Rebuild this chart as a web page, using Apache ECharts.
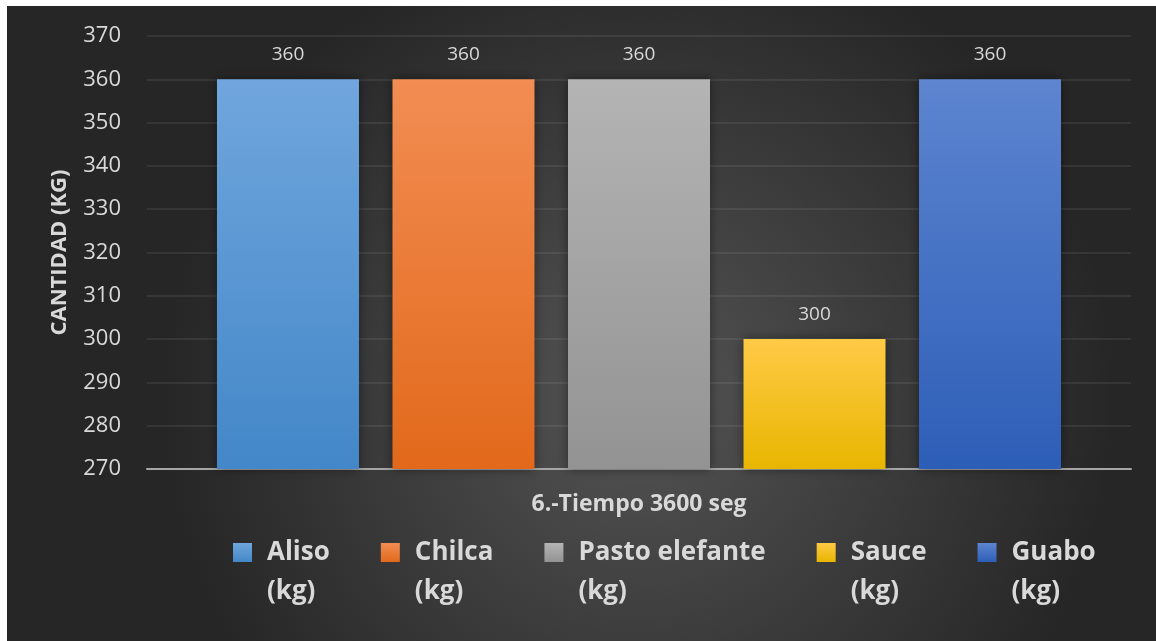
<!DOCTYPE html>
<html>
<head>
<meta charset="utf-8">
<script src="https://cdn.jsdelivr.net/npm/echarts@6/dist/echarts.min.js"></script>
<style>
  html, body { margin: 0; padding: 0; background: #fff; }
  #chart { position: absolute; left: 7px; top: 6px; width: 1149px; height: 635px; }
</style>
</head>
<body>
<div id="chart"></div>
<script>
// datos
const categories = ["6.-Tiempo 3600 seg"];
const seriesNames = ["Aliso\n(kg)", "Chilca\n(kg)", "Pasto elefante\n(kg)", "Sauce\n(kg)", "Guabo\n(kg)"];
const aliso = [360];
const chilca = [360];
const pasto = [360];
const sauce = [300];
const guabo = [360];
const yTicks = { min: 270, max: 370, step: 10 };

const seriesData = [aliso, chilca, pasto, sauce, guabo];
// colores degradado (arriba, abajo)
const colors = [
  ["#70a6dd", "#4387c8"],
  ["#f28d53", "#e2691b"],
  ["#b4b4b4", "#939393"],
  ["#ffca46", "#e8b600"],
  ["#5d85d0", "#2d5eb7"],
];

const chart = echarts.init(document.getElementById("chart"));

const txt = "#d9d9d9";
const font = "'Open Sans', sans-serif";

const option = {
  backgroundColor: {
    type: "radial", x: 0.55, y: 0.62, r: 0.75,
    colorStops: [
      { offset: 0, color: "#545454" },
      { offset: 1, color: "#262626" },
    ],
  },
  textStyle: { fontFamily: font },
  grid: { left: 140, right: 25, top: 30, bottom: 172 },
  xAxis: {
    type: "category",
    data: categories,
    axisTick: { show: false },
    axisLine: { lineStyle: { color: "#a6a6a6", width: 2 } },
    axisLabel: {
      color: txt, fontSize: 23, fontWeight: "bold", fontFamily: font, margin: 24,
    },
  },
  yAxis: {
    type: "value",
    min: yTicks.min, max: yTicks.max, interval: yTicks.step,
    name: "CANTIDAD (KG)",
    nameLocation: "middle",
    nameGap: 76,
    nameRotate: 90,
    nameTextStyle: { color: txt, fontSize: 22, fontWeight: "bold", fontFamily: font },
    axisLine: { show: false },
    axisTick: { show: false },
    axisLabel: { color: txt, fontSize: 22, fontFamily: font, margin: 26 },
    splitLine: { lineStyle: { color: "rgba(255,255,255,0.1)", width: 1.5 } },
  },
  legend: {
    left: 221,
    top: 483,
    itemWidth: 19,
    itemHeight: 19,
    itemGap: 51,
    icon: "rect",
    // linea vacia arriba para que el icono quede a la altura de la primera linea
    formatter: (name) => " \n" + name,
    textStyle: {
      color: txt, fontSize: 26, fontWeight: "bold", fontFamily: font,
      lineHeight: 39, padding: [0, 0, 0, 10],
    },
    data: seriesNames,
  },
  series: seriesNames.map((name, i) => ({
    name: name,
    type: "bar",
    data: seriesData[i],
    barWidth: 142,
    barGap: "23.6%",
    itemStyle: {
      color: new echarts.graphic.LinearGradient(0, 0, 0, 1, [
        { offset: 0, color: colors[i][0] },
        { offset: 1, color: colors[i][1] },
      ]),
      shadowColor: "rgba(0,0,0,0.45)",
      shadowBlur: 10,
    },
    label: {
      show: true, position: "top", distance: 15,
      color: txt, fontSize: 19, fontFamily: font,
    },
  })),
};

chart.setOption(option);
</script>
</body>
</html>
